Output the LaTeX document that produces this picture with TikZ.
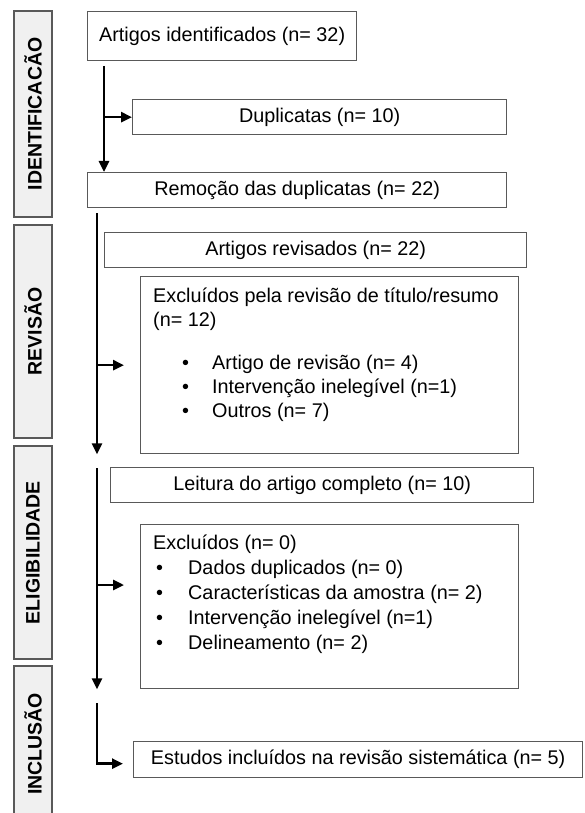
\documentclass[tikz,border=0pt]{standalone}
\usepackage{fontspec}
\setmainfont{Liberation Sans}
\usetikzlibrary{calc}
\usetikzlibrary{arrows.meta}
\tikzset{
 fase/.style={draw=gray!70!black, line width=1.3pt, fill=gray!12, rotate=90, minimum height=38, inner sep=0, font=\fontsize{19.5}{23}\selectfont\bfseries},
 caixa/.style={draw=gray!70!black, line width=1.3pt, anchor=north west, inner sep=0, font=\fontsize{19.8}{23}\selectfont},
 lista/.style={anchor=north west, inner sep=0, align=left},
 seta/.style={black, line width=2.6pt, ->, >={Triangle[length=11pt,width=10pt]}}
}
\newcommand{\itemlinha}[3]{\makebox[#2][l]{\hspace*{#1}\textbullet}#3}

\begin{document}
\begin{tikzpicture}[x=1pt, y=-1pt]
\clip (0,0) rectangle (584,813);
\node[fase, minimum width=206] (identificacao) at (33,114) {IDENTIFICACÃO};
\node[fase, minimum width=213] (revisao) at (33,331.5) {REVISÃO};
\node[fase, minimum width=213] (elegibilidade) at (33,552.5) {ELIGIBILIDADE};
\node[fase, minimum width=156] (inclusao) at (33,744) {INCLUSÃO};

\node[caixa, minimum width=269, minimum height=49] (identificados) at (87,11) {Artigos identificados (n= 32)};
\node[caixa, minimum width=374, minimum height=35] (duplicatas) at (132,99) {Duplicatas (n= 10)};
\node[caixa, minimum width=419, minimum height=35] (remocao) at (87,172) {Remoção das duplicatas (n= 22)};
\node[caixa, minimum width=422, minimum height=35] (revisados) at (104,232) {Artigos revisados (n= 22)};
\node[caixa, minimum width=378, minimum height=177] (excluidos1) at (140,276) {};
\node[lista, font=\fontsize{19.8}{24}\selectfont] (motivos1) at (153,285.2) {\strut Excluídos pela revisão de título/resumo\\(n= 12)\\[19pt]
 \itemlinha{29pt}{59pt}{Artigo de revisão (n= 4)}\\
 \itemlinha{29pt}{59pt}{Intervenção inelegível (n=1)}\\
 \itemlinha{29pt}{59pt}{Outros (n= 7)}};
\node[caixa, minimum width=423, minimum height=35] (leitura) at (110,467) {Leitura do artigo completo (n= 10)};
\node[caixa, minimum width=378, minimum height=164] (excluidos2) at (140,524) {};
\node[lista, font=\fontsize{19.8}{25}\selectfont] (motivos2) at (153,531.5) {\strut Excluídos (n= 0)\\
 \itemlinha{3pt}{35pt}{Dados duplicados (n= 0)}\\
 \itemlinha{3pt}{35pt}{Características da amostra (n= 2)}\\
 \itemlinha{3pt}{35pt}{Intervenção inelegível (n=1)}\\
 \itemlinha{3pt}{35pt}{Delineamento (n= 2)}};
\node[caixa, minimum width=449, minimum height=36] (estudos) at (133,741) {Estudos incluídos na revisão sistemática (n= 5)};

\coordinate (inicio1) at (104,66);
\draw[seta] (inicio1) -- (inicio1 |- remocao.north);
\draw[seta] (inicio1 |- duplicatas.west) -- (duplicatas.west);
\coordinate (inicio2) at (97,213);
\draw[seta] (inicio2) -- (inicio2 |- excluidos1.south);
\draw[seta] (inicio2 |- excluidos1.west) -- ($(excluidos1.west)+(-16,0)$);
\coordinate (inicio3) at (97,468);
\coordinate (ramo3) at (97,585);
\draw[seta] (inicio3) -- (inicio3 |- excluidos2.south);
\draw[seta] (ramo3) -- ++(27,0);
\coordinate (inicio4) at (97,703);
\draw[seta] (inicio4) |- ($(estudos.west)+(-10,4)$);
\end{tikzpicture}
\end{document}
